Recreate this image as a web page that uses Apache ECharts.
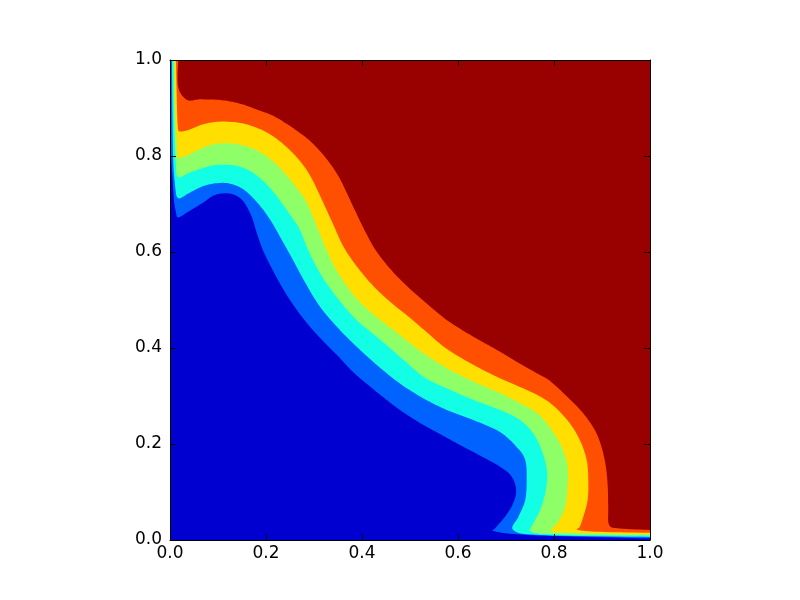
<!DOCTYPE html>
<html><head><meta charset="utf-8">
<script src="https://cdn.jsdelivr.net/npm/echarts@6/dist/echarts.min.js"></script>
<style>html,body{margin:0;padding:0;background:#fff}#c{width:800px;height:600px}</style>
</head><body><div id="c"></div>
<script>
const tickValues = [0, 0.2, 0.4, 0.6, 0.8, 1.0];
const tickLabels = ['0.0', '0.2', '0.4', '0.6', '0.8', '1.0'];
const levelColors = ['#990000', '#ff4f00', '#ffde00', '#8fff68', '#12ffe5', '#0062ff', '#0000d1'];

// top level: the whole square
const levelTop = [[0, 1], [1, 1]];
// boundary between dark red and orange
const contour1 = [[0.017,1.0],[0.017,0.944],[0.035,0.917],[0.0625,0.918],[0.100,0.917],[0.129,0.913],[0.156,0.906],[0.183,0.896],[0.2125,0.885],[0.240,0.869],[0.265,0.852],[0.292,0.831],[0.323,0.798],[0.352,0.756],[0.379,0.700],[0.406,0.644],[0.431,0.600],[0.465,0.558],[0.500,0.523],[0.531,0.496],[0.577,0.458],[0.631,0.424],[0.681,0.396],[0.723,0.371],[0.765,0.347],[0.792,0.331],[0.827,0.299],[0.860,0.265],[0.885,0.229],[0.899,0.194],[0.908,0.153],[0.912,0.111],[0.913,0.069],[0.915,0.031],[0.9375,0.024],[1.0,0.021]];
// boundary between orange and yellow
const contour2 = [[0.0125,1.0],[0.0146,0.896],[0.0167,0.858],[0.021,0.851],[0.038,0.854],[0.066,0.865],[0.094,0.871],[0.1285,0.871],[0.163,0.865],[0.198,0.851],[0.226,0.833],[0.256,0.806],[0.279,0.779],[0.2969,0.750],[0.3167,0.7083],[0.3396,0.6583],[0.3615,0.611],[0.3896,0.5694],[0.425,0.5277],[0.4625,0.493],[0.4979,0.4646],[0.5333,0.4344],[0.5771,0.3979],[0.632,0.365],[0.681,0.340],[0.729,0.319],[0.771,0.299],[0.802,0.277],[0.833,0.243],[0.854,0.208],[0.868,0.167],[0.8715,0.125],[0.870,0.083],[0.861,0.0485],[0.854,0.028],[0.850,0.021],[0.896,0.017],[1.0,0.015]];
// boundary between yellow and green
const contour3 = [[0.0094,1.0],[0.0104,0.917],[0.0146,0.8125],[0.017,0.797],[0.038,0.802],[0.066,0.816],[0.094,0.825],[0.1285,0.826],[0.163,0.819],[0.191,0.806],[0.219,0.785],[0.244,0.758],[0.2625,0.7354],[0.2854,0.702],[0.308,0.648],[0.326,0.604],[0.350,0.556],[0.385,0.507],[0.421,0.472],[0.465,0.4375],[0.500,0.410],[0.528,0.389],[0.5765,0.358],[0.632,0.330],[0.6875,0.306],[0.729,0.285],[0.765,0.264],[0.792,0.233],[0.816,0.194],[0.828,0.153],[0.828,0.111],[0.823,0.069],[0.809,0.038],[0.795,0.019],[0.844,0.0146],[1.0,0.012]];
// boundary between green and cyan
const contour4 = [[0.0073,1.0],[0.0083,0.875],[0.0125,0.781],[0.017,0.756],[0.038,0.764],[0.066,0.774],[0.094,0.781],[0.1285,0.781],[0.156,0.774],[0.184,0.757],[0.2104,0.731],[0.233,0.702],[0.2563,0.669],[0.2708,0.646],[0.2906,0.598],[0.317,0.5485],[0.352,0.500],[0.389,0.458],[0.431,0.423],[0.479,0.382],[0.528,0.340],[0.5765,0.316],[0.632,0.292],[0.6875,0.271],[0.729,0.250],[0.756,0.223],[0.774,0.1875],[0.785,0.146],[0.783,0.104],[0.771,0.0625],[0.757,0.035],[0.7535,0.017],[0.8125,0.0115],[1.0,0.009]];
// boundary between cyan and light blue
const contour5 = [[0.004,1.0],[0.006,0.8125],[0.0104,0.740],[0.017,0.712],[0.038,0.722],[0.066,0.736],[0.094,0.743],[0.1215,0.743],[0.149,0.733],[0.173,0.7125],[0.198,0.683],[0.2167,0.654],[0.233,0.625],[0.254,0.5875],[0.281,0.5375],[0.3125,0.486],[0.354,0.4375],[0.396,0.396],[0.4375,0.359],[0.479,0.326],[0.528,0.295],[0.5765,0.271],[0.632,0.250],[0.6875,0.225],[0.722,0.194],[0.740,0.167],[0.743,0.125],[0.740,0.083],[0.726,0.0485],[0.715,0.021],[0.771,0.0104],[1.0,0.00625]];
// boundary between light blue and dark blue
const contour6 = [[0,0.840],[0.004,0.771],[0.0083,0.708],[0.0125,0.683],[0.017,0.672],[0.038,0.684],[0.066,0.701],[0.094,0.719],[0.1215,0.722],[0.142,0.715],[0.156,0.701],[0.170,0.674],[0.1802,0.6417],[0.1917,0.6083],[0.2063,0.5771],[0.225,0.5417],[0.2458,0.5063],[0.2688,0.4729],[0.2938,0.4417],[0.3208,0.4125],[0.350,0.3833],[0.3792,0.352],[0.4104,0.325],[0.4438,0.2979],[0.4792,0.2708],[0.5208,0.2438],[0.5625,0.2208],[0.6042,0.1979],[0.6458,0.176],[0.6875,0.1527],[0.712,0.132],[0.721,0.104],[0.715,0.0765],[0.698,0.0485],[0.677,0.024],[0.6735,0.019],[0.7146,0.0125],[0.798,0.0083],[1.0,0.0035]];

const bands = [levelTop, contour1, contour2, contour3, contour4, contour5, contour6];

// Catmull-Rom smoothing of the drawn outline (rendering only, in pixel space)
function smoothPath(px) {
  if (px.length < 3) return px.slice();
  const out = [];
  const n = px.length;
  const steps = 8;
  for (let i = 0; i < n - 1; i++) {
    const p0 = px[Math.max(0, i - 1)], p1 = px[i], p2 = px[i + 1], p3 = px[Math.min(n - 1, i + 2)];
    const c1 = [p1[0] + (p2[0] - p0[0]) / 6, p1[1] + (p2[1] - p0[1]) / 6];
    const c2 = [p2[0] - (p3[0] - p1[0]) / 6, p2[1] - (p3[1] - p1[1]) / 6];
    for (let s = 0; s < steps; s++) {
      const t = s / steps, u = 1 - t;
      out.push([
        u*u*u*p1[0] + 3*u*u*t*c1[0] + 3*u*t*t*c2[0] + t*t*t*p2[0],
        u*u*u*p1[1] + 3*u*u*t*c1[1] + 3*u*t*t*c2[1] + t*t*t*p2[1]
      ]);
    }
  }
  out.push(px[n - 1]);
  return out;
}

const chart = echarts.init(document.getElementById('c'), null, {renderer: 'canvas'});
const labelFmt = v => { const i = tickValues.findIndex(t => Math.abs(t - v) < 1e-9); return i >= 0 ? tickLabels[i] : ''; };
const axisCommon = {
  type: 'value', min: 0, max: 1, interval: 0.2, z: 10,
  axisLine: {show: true, onZero: false, lineStyle: {color: '#000', width: 1}},
  axisTick: {show: true, inside: true, length: 6, lineStyle: {color: '#000', width: 1}},
  splitLine: {show: false}
};
const labelStyle = {color: '#000', fontSize: 17, fontFamily: 'DejaVu Sans', formatter: labelFmt};

chart.setOption({
  animation: false,
  backgroundColor: '#fff',
  grid: {left: 170, right: 150, top: 60, bottom: 60, containLabel: false},
  xAxis: [
    Object.assign({}, axisCommon, {position: 'bottom', axisLabel: Object.assign({}, labelStyle, {margin: 5})}),
    Object.assign({}, axisCommon, {position: 'top', axisLabel: {show: false}})
  ],
  yAxis: [
    Object.assign({}, axisCommon, {position: 'left', axisLabel: Object.assign({}, labelStyle, {margin: 8})}),
    Object.assign({}, axisCommon, {position: 'right', axisLabel: {show: false}})
  ],
  series: [{
    type: 'custom',
    xAxisIndex: 0, yAxisIndex: 0,
    clip: true,
    encode: {x: 0, y: 1},
    data: bands.map(b => b[0]),
    renderItem: function (params, api) {
      const b = bands[params.dataIndex];
      const start = [api.coord([0, 0])];
      if (b[0][1] === 1) start.push(api.coord([0, 1]));
      const edge = smoothPath(b.map(p => api.coord(p)));
      const pts = start.concat(edge, [api.coord([1, 0])]);
      return {
        type: 'polygon',
        shape: {points: pts},
        style: {fill: levelColors[params.dataIndex], stroke: null}
      };
    }
  }]
});
</script></body></html>
